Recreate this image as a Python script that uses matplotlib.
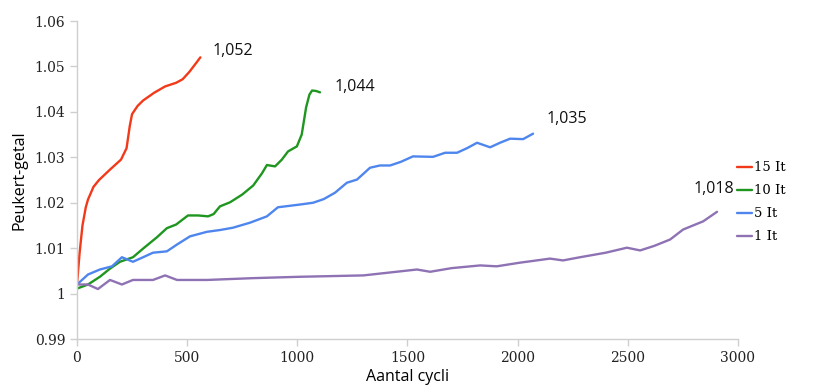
import matplotlib
matplotlib.use("Agg")
import matplotlib.pyplot as plt

# 15 It
x15 = [0, 12, 25, 40, 50, 75, 100, 150, 200, 225, 240, 250, 275, 300, 350, 400, 450, 480, 510, 540, 560]
y15 = [1.002, 1.009, 1.015, 1.019, 1.0207, 1.0235, 1.025, 1.0273, 1.0295, 1.032, 1.037, 1.0395, 1.0413, 1.0425, 1.0442, 1.0456, 1.0464, 1.0472, 1.0488, 1.0507, 1.052]
# 10 It
x10 = [0, 50, 104, 150, 195, 254, 300, 363, 408, 450, 504, 550, 595, 620, 649, 695, 750, 800, 840, 862, 899, 930, 958, 998, 1020, 1040, 1055, 1067, 1085, 1103]
y10 = [1.0011, 1.002, 1.0037, 1.0055, 1.007, 1.008, 1.0099, 1.0124, 1.0144, 1.0152, 1.0172, 1.0172, 1.017, 1.0175, 1.0192, 1.0201, 1.0218, 1.0238, 1.0265, 1.0283, 1.028, 1.0295, 1.0313, 1.0324, 1.035, 1.041, 1.0438, 1.0447, 1.0446, 1.0443]
# 5 It
x5 = [0, 50, 104, 159, 204, 254, 300, 345, 408, 454, 513, 590, 650, 708, 785, 862, 912, 1012, 1072, 1120, 1171, 1225, 1271, 1330, 1375, 1421, 1470, 1525, 1616, 1671, 1725, 1770, 1816, 1875, 1920, 1966, 2025, 2070]
y5 = [1.002, 1.0042, 1.0053, 1.006, 1.008, 1.007, 1.008, 1.009, 1.0093, 1.0108, 1.0126, 1.0136, 1.014, 1.0145, 1.0156, 1.017, 1.019, 1.0196, 1.02, 1.0208, 1.0222, 1.0244, 1.0251, 1.0277, 1.0282, 1.0282, 1.029, 1.0302, 1.0301, 1.031, 1.031, 1.032, 1.0332, 1.0322, 1.0332, 1.0341, 1.034, 1.0352]
# 1 It
x1 = [0, 50, 95, 150, 204, 254, 345, 400, 454, 590, 800, 1012, 1300, 1543, 1603, 1700, 1830, 1905, 2010, 2147, 2206, 2283, 2400, 2496, 2556, 2620, 2692, 2751, 2842, 2905]
y1 = [1.002, 1.002, 1.001, 1.003, 1.002, 1.003, 1.003, 1.004, 1.003, 1.003, 1.0034, 1.0037, 1.004, 1.0053, 1.0048, 1.0056, 1.0062, 1.006, 1.0068, 1.0077, 1.0073, 1.008, 1.009, 1.0101, 1.0095, 1.0105, 1.0119, 1.0141, 1.0159, 1.018]

series_labels = ["15 It", "10 It", "5 It", "1 It"]
colors = ["#F23A1A", "#1F961F", "#4F86EE", "#8E72B4"]
end_labels = ["1,052", "1,044", "1,035", "1,018"]
end_label_pos = [(617, 1.0533), (1171, 1.0454), (2133, 1.0385), (2797, 1.0231)]

xticks = [0, 500, 1000, 1500, 2000, 2500, 3000]
yticks = [0.99, 1.0, 1.01, 1.02, 1.03, 1.04, 1.05, 1.06]
ytick_labels = ["0.99", "1", "1.01", "1.02", "1.03", "1.04", "1.05", "1.06"]

fig = plt.figure(figsize=(8.25, 3.87), dpi=100)
ax = fig.add_axes([0.0933, 0.124, 0.8012, 0.8217])

for xs, ys, lab, c in zip([x15, x10, x5, x1], [y15, y10, y5, y1], series_labels, colors):
    ax.plot(xs, ys, color=c, lw=1.7, label=lab, solid_joinstyle="round", solid_capstyle="round")

for t, (tx, ty) in zip(end_labels, end_label_pos):
    ax.text(tx, ty, t, fontsize=11.5, va="center", ha="left", family="Open Sans", color="#111111")

ax.set_xlim(0, 3000)
ax.set_ylim(0.99, 1.06)
ax.set_xticks(xticks)
ax.set_xticklabels([str(v) for v in xticks], family="DejaVu Serif", fontsize=10)
ax.set_yticks(yticks)
ax.set_yticklabels(ytick_labels, family="DejaVu Serif", fontsize=10)
for s in ["top", "right"]:
    ax.spines[s].set_visible(False)
for s in ["left", "bottom"]:
    ax.spines[s].set_color("#CFCFCF")
    ax.spines[s].set_linewidth(1.0)
ax.tick_params(axis="both", colors="#CFCFCF", labelcolor="#222222", length=5, width=1.0)

ax.set_ylabel("Peukert-getal", family="Open Sans", fontsize=11.5, labelpad=5)
ax.set_xlabel("Aantal cycli", family="Open Sans", fontsize=11.5, labelpad=3)

leg = ax.legend(loc="upper left", bbox_to_anchor=(0.99, 0.575), frameon=False,
                prop={"family": "DejaVu Serif", "size": 9.5}, handlelength=1.2,
                handletextpad=0.1, labelspacing=0.75, borderaxespad=0)

fig.savefig("out.png", dpi=100)
